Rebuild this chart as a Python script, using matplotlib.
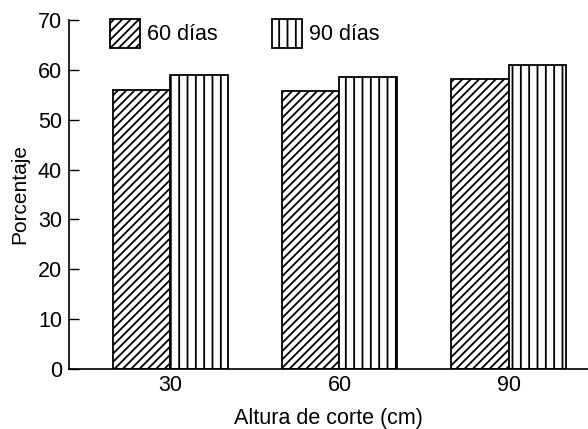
import matplotlib
matplotlib.use("Agg")
import matplotlib.pyplot as plt
import numpy as np
from matplotlib.patches import Rectangle

plt.rcParams['font.family'] = ['Liberation Sans', 'DejaVu Sans']
plt.rcParams['hatch.linewidth'] = 1.3

categories = ["30", "60", "90"]
series_labels = ["60 días", "90 días"]
values_60 = [55.9, 55.7, 58.1]
values_90 = [58.9, 58.5, 61.0]
yticks = [0, 10, 20, 30, 40, 50, 60, 70]

fig = plt.figure(figsize=(5.88, 4.29), dpi=100)
ax = fig.add_axes([69/588, 1-369/429, 1-69/588, (369-20)/429])

x = np.arange(len(categories))
w = 0.34
ax.bar(x - w/2, values_60, w, facecolor='white', edgecolor='black', hatch='////', linewidth=1.3)
ax.bar(x + w/2, values_90, w, facecolor='white', edgecolor='black', hatch='||', linewidth=1.3)

ax.set_xlim(-0.6, 2.47)
ax.set_ylim(0, 70)
ax.set_yticks(yticks)
ax.set_xticks(x)
ax.set_xticklabels(categories)
ax.tick_params(axis='y', direction='in', length=7, width=1, labelsize=15.5, pad=5)
ax.tick_params(axis='x', length=0, labelsize=15.5, pad=4)
for s in ['top', 'right']:
    ax.spines[s].set_visible(False)
ax.spines['left'].set_linewidth(1.2)
ax.spines['bottom'].set_linewidth(1.2)
ax.set_ylabel("Porcentaje", fontsize=15, labelpad=6)
ax.set_xlabel("Altura de corte (cm)", fontsize=15.5, labelpad=9)

# legend
hatches = ['////', '||']
px = [110, 272]
for i, lab in enumerate(series_labels):
    r = Rectangle((px[i]/588, 1-48/429), 30/588, 29/429, transform=fig.transFigure,
                  facecolor='white', edgecolor='black', hatch=hatches[i], linewidth=1.3)
    fig.patches.append(r)
    fig.text((px[i]+37)/588, 1-34/429, lab, fontsize=15.5, va='center', ha='left')

fig.savefig("out.png", dpi=100)
